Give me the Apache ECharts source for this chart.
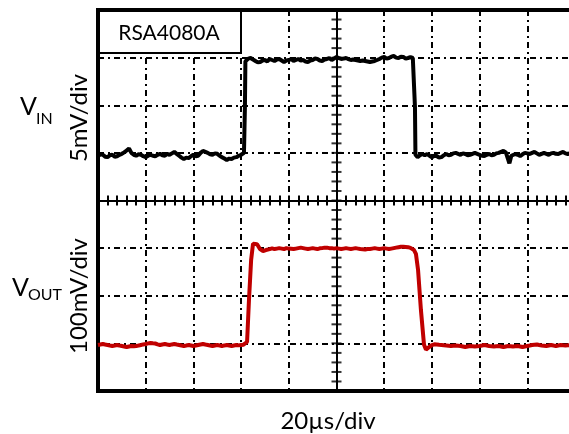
<!DOCTYPE html>
<html>
<head>
<meta charset="utf-8">
<script src="https://cdn.jsdelivr.net/npm/echarts@6/dist/echarts.min.js"></script>
<style>
html,body{margin:0;padding:0;background:#fff}
#chart{width:569px;height:434px}
</style>
</head>
<body>
<div id="chart"></div>
<script>
// Scope capture: time in microseconds (20 µs/div), input in mV (5 mV/div), output in mV (100 mV/div)
const instrumentName = 'RSA4080A';
const timeLabel = '20µs/div';
const vinScaleLabel = '5mV/div';
const voutScaleLabel = '100mV/div';

// minor graticule marks on the vertical center line (input-axis mV, 5 per division)
const centerTime = 100;
const verticalMinorMarks = [
  -25,-24,-23,-22,-21,-20,-19,-18,-17,-16,-15,-14,-13,-12,-11,-10,-9,-8,-7,-6,
  -5,-4,-3,-2,-1,0,1,2,3,4,5,6,7,8,9,10,11,12,13,14,15
];

// Input trace [t (µs), mV]
const vinTrace = [
  [0,-0.33],[1,-0.15],[2,-0.2],[3,-0.4],[4,-0.45],[5,-0.25],[6,-0.2],[7,-0.4],[8,-0.35],[9,-0.2],
  [10,-0.1],[11,0.05],[12,0.25],[13,0.45],[14,0.0],[15,-0.2],[16,-0.3],[17,-0.15],[18,-0.2],[19,-0.35],
  [20,-0.45],[21,-0.3],[22,-0.2],[23,-0.3],[24,-0.35],[25,-0.2],[26,-0.1],[27,-0.25],[28,-0.3],[29,-0.1],
  [30,-0.2],[31,-0.05],[32,0.1],[33,-0.1],[34,-0.3],[35,-0.5],[36,-0.65],[37,-0.5],[38,-0.55],[39,-0.35],
  [40,-0.2],[41,-0.35],[42,-0.3],[43,0.0],[44,0.2],[45,0.1],[46,0.0],[47,-0.15],[48,-0.2],[49,-0.05],
  [50,-0.1],[51,-0.3],[52,-0.45],[53,-0.6],[54,-0.75],[55,-0.6],[56,-0.65],[57,-0.5],[58,-0.45],[59,-0.3],
  [60,-0.2],[61.2,0.0],[61.6,4.8],[61.8,9.6],
  [62,9.75],[63,9.9],[64,9.96],[65,9.8],[66,9.65],[67,9.5],[68,9.54],[69,9.7],[70,9.75],[71,9.6],
  [72,9.86],[73,9.75],[74,9.65],[75,9.8],[76,9.86],[77,9.7],[78,9.54],[79,9.7],[80,9.75],[81,9.85],
  [82,9.65],[83,9.75],[84,9.86],[85,9.7],[86,9.75],[87,9.6],[88,9.54],[89,9.7],[90,9.75],[91,9.9],
  [92,9.86],[93,9.7],[94,9.65],[95,9.8],[96,9.86],[97,9.95],[98,9.75],[99,9.9],[100,10.07],[101,9.95],
  [102,9.86],[103,9.9],[104,9.96],[105,9.85],[106,9.75],[107,9.8],[108,9.75],[109,9.7],[110,9.65],[111,9.7],
  [112,9.65],[113,9.6],[114,9.54],[115,9.6],[116,9.65],[117,9.75],[118,9.86],[119,10.0],[120,10.07],[121,9.9],
  [122,9.96],[123,10.1],[124,10.17],[125,10.0],[126,9.96],[127,10.1],[128,10.07],[129,9.9],[130,9.96],[131,10.05],
  [132,9.96],[132.7,9.9],[132.9,4.8],[133.1,-0.2],
  [134,-0.45],[135,-0.25],[136,-0.12],[137,-0.25],[138,-0.12],[139,-0.3],[140,-0.45],[141,-0.3],[142,-0.33],[143,-0.5],
  [144,-0.45],[145,-0.25],[146,-0.12],[147,-0.25],[148,-0.2],[149,-0.05],[150,0.0],[151,-0.1],[152,-0.2],[153,-0.05],
  [154,-0.12],[155,-0.25],[156,-0.2],[157,-0.1],[158,0.0],[159,-0.1],[160,-0.2],[161,-0.3],[162,-0.33],[163,-0.2],
  [164,-0.12],[165,-0.25],[166,-0.2],[167,-0.05],[168,0.0],[169,0.1],[170,0.2],[171,0.05],[171.8,0.0],[172.5,-1.1],
  [173.3,-0.3],[174,-0.15],[175,-0.12],[176,-0.2],[177,-0.33],[178,-0.15],[179,0.0],[180,-0.05],[181,-0.12],[182,0.0],
  [183,0.1],[184,-0.05],[185,-0.2],[186,-0.1],[187,0.0],[188,-0.1],[189,-0.2],[190,-0.05],[191,0.0],[192,-0.1],
  [193,-0.12],[194,0.0],[195,0.1],[196,-0.05],[197,-0.12],[198,-0.05],[199,0.0],[200,-0.12]
];

// Output trace [t (µs), mV]
const voutTrace = [
  [0,-3.4],[1,-2.5],[2,-1.3],[3,-2.4],[4,-3.4],[5,-4.5],[6,-5.5],[7,-4.4],[8,-3.4],[9,-4.6],
  [10,-5.5],[11,-6.5],[12,-7.6],[13,-6.5],[14,-5.5],[15,-6.2],[16,-5.5],[17,-4.5],[18,-3.4],[19,-2.2],
  [20,-1.3],[21,0.0],[22,0.8],[23,0.2],[24,-0.3],[25,-2.0],[26,-3.4],[27,-2.3],[28,-1.3],[29,-2.4],
  [30,-3.4],[31,-2.2],[32,-1.3],[33,-2.5],[34,-3.4],[35,-4.5],[36,-5.5],[37,-4.5],[38,-3.4],[39,-4.4],
  [40,-5.5],[41,-4.5],[42,-3.4],[43,-2.3],[44,-1.3],[45,-2.4],[46,-3.4],[47,-4.5],[48,-5.5],[49,-4.4],
  [50,-3.4],[51,-4.5],[52,-5.5],[53,-4.3],[54,-3.4],[55,-4.6],[56,-5.5],[57,-4.4],[58,-3.4],[59,-4.2],
  [60,-3.4],[61,-2.8],[61.6,-3.4],[62.5,2.9],[63.3,91],[64.2,175],
  [65.0,209],[65.8,213],[66.7,208],[67.9,198],[69.2,194],[70.4,196],
  [72,198],[73,199.5],[74,198],[75,199],[76,200],[77,199],[78,198],[79,200],[80,199],[81,198.5],
  [82,198],[83,199],[84,200],[85,201],[86,200],[87,199],[88,198],[89,199],[90,200],[91,199],
  [92,198],[93,199.5],[94,200],[95,201],[96,201],[97,200],[98,200],[99,199],[100,200],[101,199],
  [102,198],[103,199],[104,200],[105,199],[106,198],[107,199],[108,200],[109,199],[110,198],[111,197.5],
  [112,197],[113,198],[114,198],[115,199],[116,200],[117,199],[118,198],[119,199],[120,200],[121,199],
  [122,198],[123,199],[124,200],[125,201],[126,202],[127,203],[128,203],[129,202.5],[130,202],[131,200.5],
  [131.5,199],[132.5,196],[133.3,188],[134.2,154],[135.4,70],[136.7,-3],
  [137.5,-13],[138.8,-8],[140,-3.5],[141,-2.0],
  [142,-2.4],[143,-3.0],[144,-3.4],[145,-4.0],[146,-4.5],[147,-5.0],[148,-5.5],[149,-5.0],[150,-4.5],[151,-5.0],
  [152,-5.5],[153,-6.5],[154,-7.6],[155,-6.5],[156,-5.5],[157,-6.0],[158,-6.5],[159,-6.0],[160,-5.5],[161,-4.5],
  [162,-3.4],[163,-4.5],[164,-5.5],[165,-6.0],[166,-6.5],[167,-6.0],[168,-5.5],[169,-6.5],[170,-7.6],[171,-6.5],
  [172,-5.5],[173,-6.0],[174,-6.5],[175,-6.0],[176,-5.5],[177,-6.5],[178,-7.6],[179,-6.5],[180,-5.5],[181,-4.5],
  [182,-3.4],[183,-2.8],[184,-2.4],[185,-3.5],[186,-4.5],[187,-5.0],[188,-5.5],[189,-4.5],[190,-3.4],[191,-4.5],
  [192,-5.5],[193,-4.5],[194,-3.4],[195,-4.0],[196,-4.5],[197,-4.0],[198,-3.4],[199,-4.0],[200,-4.5]
];

const FONT = 'Lato';
const gridDash = [6, 4, 2, 4];

const chart = echarts.init(document.getElementById('chart'), null, {renderer: 'canvas'});

const blank = () => '';
// tiny empty labels keep every tick alive without any visible text
const silentLabel = {show: true, formatter: blank, color: 'transparent', fontSize: 1, lineHeight: 1, margin: 0, hideOverlap: false};

// horizontal center line in divisions-from-center units, sitting on the vertical center's zero;
// one copy ticks upward, one downward, so the ticks cross the line
function centerX(inside) {
  return {
    type: 'value', min: -100, max: 100, interval: 4, position: 'bottom',
    axisLine: {show: true, onZero: true, onZeroAxisIndex: 2, lineStyle: {color: '#000', width: 2}},
    axisTick: {show: true, inside: inside, length: 5, lineStyle: {color: '#000', width: 2}},
    axisLabel: silentLabel,
    splitLine: {show: false}
  };
}

chart.setOption({
  animation: false,
  backgroundColor: '#fff',
  grid: {
    left: 98, top: 10, width: 477, height: 381,
    outerBoundsMode: 'none', containLabel: false,
    show: true, borderColor: '#000', borderWidth: 4, backgroundColor: 'transparent'
  },
  xAxis: [
    {
      type: 'value', min: 0, max: 200, interval: 20,
      axisLine: {show: false}, axisTick: {show: false}, axisLabel: {show: false},
      splitLine: {show: true, lineStyle: {color: '#000', width: 2, type: gridDash}}
    },
    centerX(true),
    centerX(false)
  ],
  yAxis: [
    {
      type: 'value', min: -25, max: 15, interval: 5,
      axisLine: {show: false}, axisTick: {show: false}, axisLabel: {show: false},
      splitLine: {show: true, lineStyle: {color: '#000', width: 2, type: gridDash}}
    },
    {
      type: 'value', min: -100, max: 700, interval: 100, position: 'right',
      axisLine: {show: false}, axisTick: {show: false}, axisLabel: {show: false},
      splitLine: {show: false}
    },
    {
      type: 'value', min: -20, max: 20, interval: 1, position: 'left',
      axisLine: {show: true, onZero: true, onZeroAxisIndex: 1, lineStyle: {color: '#000', width: 2}},
      axisTick: {show: false}, axisLabel: {show: false}, splitLine: {show: false}
    }
  ],
  series: [
    {
      // crossing minor marks along the vertical center line
      name: 'centerMarks', type: 'scatter', xAxisIndex: 0, yAxisIndex: 0, silent: true, z: 3,
      data: verticalMinorMarks.map(v => [centerTime, v]),
      symbol: 'rect', symbolSize: [10, 2],
      itemStyle: {color: '#000'}
    },
    {
      name: 'VIN', type: 'line', xAxisIndex: 0, yAxisIndex: 0, data: vinTrace,
      showSymbol: false, smooth: false, z: 5,
      lineStyle: {color: '#000', width: 4}
    },
    {
      name: 'VOUT', type: 'line', xAxisIndex: 0, yAxisIndex: 1, data: voutTrace,
      showSymbol: false, smooth: false, z: 5,
      lineStyle: {color: '#c00000', width: 4}
    }
  ],
  graphic: [
    {type: 'rect', z: 100, shape: {x: 99, y: 11, width: 142, height: 42},
     style: {fill: '#fff', stroke: '#000', lineWidth: 2}},
    {type: 'text', z: 101, x: 169, y: 33,
     style: {text: instrumentName, fontFamily: FONT, fontSize: 21, fill: '#000', align: 'center', verticalAlign: 'middle'}},
    {type: 'text', x: 20, y: 107,
     style: {text: 'V', fontFamily: FONT, fontSize: 25, fill: '#000', align: 'left', verticalAlign: 'middle'}},
    {type: 'text', x: 36, y: 119,
     style: {text: 'IN', fontFamily: FONT, fontSize: 16, fill: '#000', align: 'left', verticalAlign: 'middle'}},
    {type: 'text', x: 12, y: 288,
     style: {text: 'V', fontFamily: FONT, fontSize: 25, fill: '#000', align: 'left', verticalAlign: 'middle'}},
    {type: 'text', x: 28, y: 295,
     style: {text: 'OUT', fontFamily: FONT, fontSize: 16, fill: '#000', align: 'left', verticalAlign: 'middle'}},
    {type: 'text', x: 79, y: 118, rotation: Math.PI / 2,
     style: {text: vinScaleLabel, fontFamily: FONT, fontSize: 24, fill: '#000', align: 'center', verticalAlign: 'middle'}},
    {type: 'text', x: 79, y: 296, rotation: Math.PI / 2,
     style: {text: voutScaleLabel, fontFamily: FONT, fontSize: 24, fill: '#000', align: 'center', verticalAlign: 'middle'}},
    {type: 'text', x: 328, y: 421,
     style: {text: timeLabel, fontFamily: FONT, fontSize: 24, fill: '#000', align: 'center', verticalAlign: 'middle'}}
  ]
});
</script>
</body>
</html>
